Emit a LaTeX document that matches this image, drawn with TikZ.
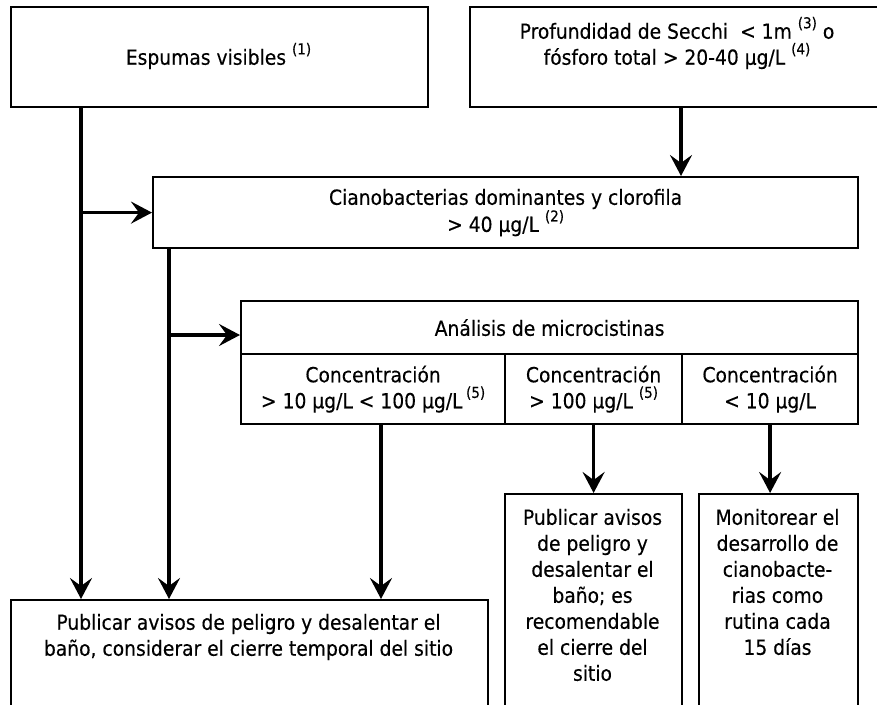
\documentclass[tikz,border=0pt]{standalone}
\usepackage{fontspec}
\setmainfont[FakeBold=0.3]{DejaVu Sans Condensed}
\usetikzlibrary{arrows.meta,calc}
\tikzset{
  box/.style={draw, line width=2.2pt, inner sep=0pt, anchor=north west},
  txt/.style={inner sep=0pt, align=center, font=\fontsize{20.8}{26}\selectfont},
  arr/.style={line width=3.4pt, -{Stealth[length=21pt,width=22pt,inset=8pt]}}
}
\newcommand{\sfn}[1]{\raisebox{0.5em}{\fontsize{15}{15}\selectfont #1}}
\begin{document}
\begin{tikzpicture}[x=1pt,y=-1pt]
\useasboundingbox (0,0) rectangle (877,704);
\clip (0,0) rectangle (877,704);
% boxes
\node[box, minimum width=417pt, minimum height=100pt] (esp) at (10,6) {};
\node[box, minimum width=416pt, minimum height=100pt] (prof) at (469,6) {};
\node[box, minimum width=705pt, minimum height=71pt] (cian) at (152,176) {};
\node[box, minimum width=617pt, minimum height=53pt] (anaH) at (240,300) {};
\node[box, minimum width=264pt, minimum height=70pt] (c1) at (240,353) {};
\node[box, minimum width=177pt, minimum height=70pt] (c2) at (504,353) {};
\node[box, minimum width=176pt, minimum height=70pt] (c3) at (681,353) {};
\node[box, minimum width=477pt, minimum height=110pt] (pubA) at (10,599) {};
\node[box, minimum width=177pt, minimum height=215pt] (pubB) at (504,493) {};
\node[box, minimum width=159pt, minimum height=215pt] (mon) at (698,493) {};
% texts
\node[txt] (tesp) at (218.5,56) {Espumas visibles \sfn{(1)}};
\node[txt] (tprof) at (677,43) {Profundidad de Secchi~~< 1m \sfn{(3)} o\\fósforo total > 20-40 µg/L \sfn{(4)}};
\node[txt] (tcian) at (cian.center) {Cianobacterias dominantes y clorofila\\> 40 µg/L \sfn{(2)}};
\node[txt] (tanaH) at (anaH.center) {Análisis de microcistinas};
\node[txt] (tc1) at (c1.center) {Concentración\\> 10 µg/L < 100 µg/L\,\sfn{(5)}};
\node[txt] (tc2) at (c2.center) {Concentración\\> 100 µg/L \sfn{(5)}};
\node[txt] (tc3) at (c3.center) {Concentración\\< 10 µg/L};
\node[txt] (tpubA) at (248.5,637) {Publicar avisos de peligro y desalentar el\\baño, considerar el cierre temporal del sitio};
\node[txt] (tpubB) at (592.5,595) {Publicar avisos\\de peligro y\\desalentar el\\baño; es\\recomendable\\el cierre del\\sitio};
\node[txt] (tmon) at (777.5,582) {Monitorear el\\desarrollo de\\cianobacte-\\rias como\\rutina cada\\15 días};
% connectors
\coordinate (e0) at ($(esp.south west)+(71,0)$);
\draw[arr] (e0) -- (e0 |- pubA.north);
\draw[arr] (e0 |- cian.west) -- (cian.west);
\coordinate (p0) at ($(prof.south west)+(212,0)$);
\draw[arr] (p0) -- (p0 |- cian.north);
\coordinate (k0) at ($(cian.south west)+(17,0)$);
\draw[arr] (k0) -- (k0 |- pubA.north);
\coordinate (k1) at (169,335);
\draw[arr] (k1) -- (k1 -| anaH.west);
\coordinate (q1) at (c1.south -| 381,0);
\draw[arr] (q1) -- (q1 |- pubA.north);
\draw[arr] (c2.south) -- (pubB.north);
\draw[arr] (c3.south) -- (c3.south |- mon.north);
\end{tikzpicture}
\end{document}
